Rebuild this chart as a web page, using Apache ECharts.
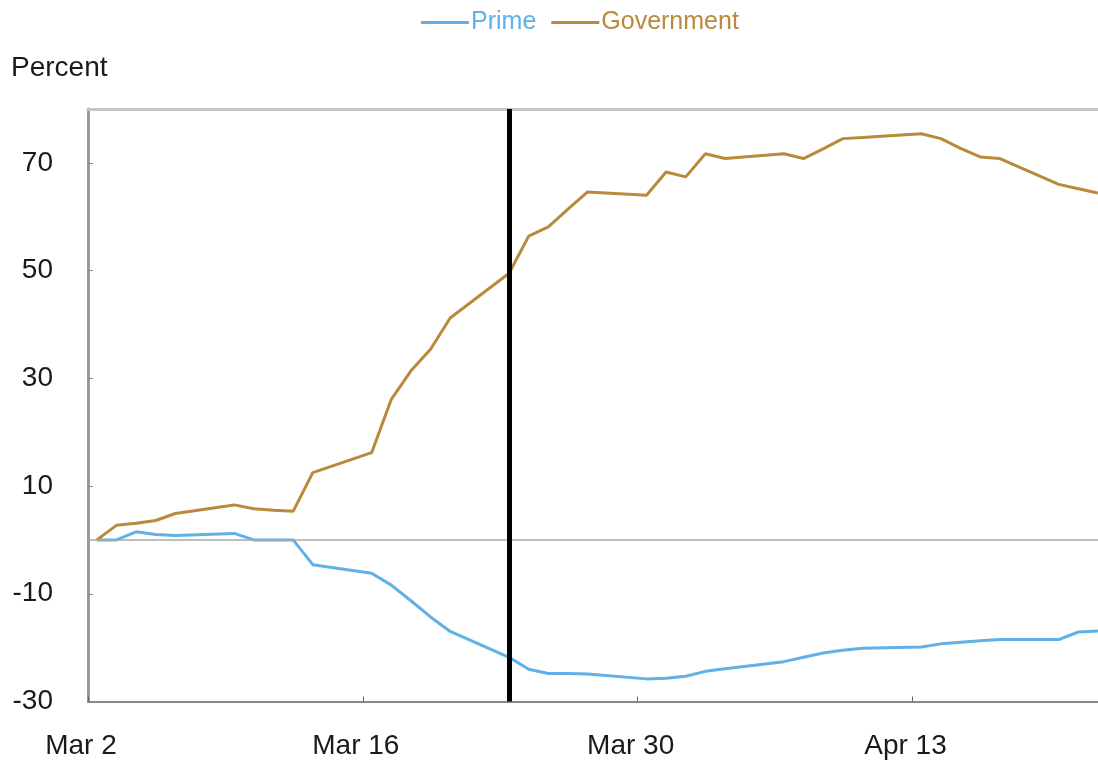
<!DOCTYPE html>
<html>
<head>
<meta charset="utf-8">
<script src="https://cdn.jsdelivr.net/npm/echarts@6/dist/echarts.min.js"></script>
<style>html,body{margin:0;padding:0;background:#fff}#c{width:1098px;height:764px}</style>
</head>
<body>
<div id="c"></div>
<script>
// Day index: 0 = Mar 2 (business days only)
const days = [0,1,2,3,4, 7,8,9,10,11, 14,15,16,17,18, 21,22,23,24,25, 28,29,30,31,32, 35,36,37,38,39, 42,43,44,45,46, 49,50,51];
const prime = [0,0,1.5,1.0,0.8, 1.2,0,0,0,-4.6, -6.2,-8.4,-11.3,-14.3,-17.0, -21.8,-24.0,-24.8,-24.8,-24.9, -25.8,-25.7,-25.3,-24.4,-23.9, -22.6,-21.8,-21.0,-20.5,-20.1, -19.9,-19.3,-19.0,-18.7,-18.5, -18.5,-17.1,-16.9];
const government = [0,2.7,3.1,3.6,4.9, 6.5,5.8,5.5,5.3,12.5, 16.2,26.1,31.4,35.4,41.2, 49.5,56.4,58.1,61.4,64.6, 64.0,68.3,67.4,71.7,70.8, 71.7,70.8,72.6,74.5,74.7, 75.4,74.5,72.7,71.1,70.8, 66.0,65.2,64.4];
const tickDays = [0,14,28,42];
const tickLabels = ['Mar 2','Mar 16','Mar 30','Apr 13'];
const yTicks = [-30,-10,10,30,50,70];
const eventDay = 21; // Mar 23

const cellOffset = 0.45; // observation sits inside its day cell
const tickVals = tickDays.map(d => d - cellOffset);
const font = 'Liberation Sans';
const blue = '#5fb1e7', gold = '#b98a3b';

const chart = echarts.init(document.getElementById('c'), null, {renderer: 'canvas'});
chart.setOption({
  animation: false,
  backgroundColor: '#fff',
  textStyle: {fontFamily: font},
  legend: {
    left: 416, top: 5,
    icon: 'rect', itemWidth: 48, itemHeight: 3, itemGap: 15,
    textStyle: {fontSize: 25, fontFamily: font, padding: [0,0,0,-3]},
    data: [
      {name: 'Prime', textStyle: {color: blue}},
      {name: 'Government', textStyle: {color: gold}}
    ]
  },
  graphic: [{
    type: 'text', left: 11, top: 54,
    style: {text: 'Percent', font: '28px "Liberation Sans"', fill: '#1a1a1a'}
  }],
  grid: {left: 88, right: 0, top: 109, bottom: 62.5, containLabel: false},
  xAxis: [{
    type: 'value', min: -cellOffset, max: 51,
    axisLine: {show: true, onZero: false, lineStyle: {color: '#888', width: 2}},
    axisTick: {show: true, inside: true, length: 5, customValues: tickVals, lineStyle: {color: '#666', width: 1}},
    axisLabel: {
      customValues: tickVals, margin: 31, fontSize: 28, color: '#1a1a1a', fontFamily: font,
      padding: [0, 14, 0, 0],
      formatter: v => { const i = tickDays.indexOf(Math.round(v + cellOffset)); return i >= 0 ? tickLabels[i] : ''; }
    },
    splitLine: {show: false}
  }, {
    type: 'value', position: 'top', min: -cellOffset, max: 51,
    axisLine: {show: true, onZero: false, lineStyle: {color: '#c6c6c6', width: 3}},
    axisTick: {show: false}, axisLabel: {show: false}, splitLine: {show: false}
  }],
  yAxis: {
    type: 'value', min: -30, max: 80,
    axisLine: {show: true, onZero: false, lineStyle: {color: '#9a9a9a', width: 3}},
    axisTick: {show: true, inside: true, length: 5, customValues: yTicks, lineStyle: {color: '#888', width: 1}},
    axisLabel: {customValues: yTicks, margin: 35, fontSize: 28, color: '#1a1a1a', fontFamily: font},
    splitLine: {show: false}
  },
  series: [{
    name: 'Prime', type: 'line', data: days.map((d, i) => [d, prime[i]]),
    showSymbol: false, symbol: 'none', lineStyle: {color: blue, width: 3}, itemStyle: {color: blue}, z: 3,
    markLine: {
      silent: true, symbol: 'none', label: {show: false}, animation: false,
      data: [{yAxis: 0, lineStyle: {color: '#a8a8a8', width: 1.5, type: 'solid'}}]
    }
  }, {
    name: 'Government', type: 'line', data: days.map((d, i) => [d, government[i]]),
    showSymbol: false, symbol: 'none', lineStyle: {color: gold, width: 3}, itemStyle: {color: gold}, z: 3,
    markLine: {
      silent: true, symbol: 'none', label: {show: false}, animation: false,
      data: [{xAxis: eventDay, lineStyle: {color: '#000', width: 5, type: 'solid'}}]
    }
  }]
});
</script>
</body>
</html>
